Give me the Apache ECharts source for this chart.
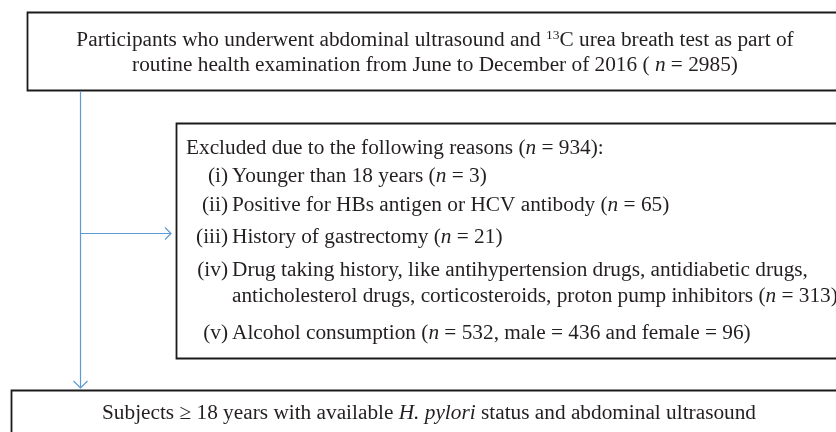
<!DOCTYPE html>
<html>
<head>
<meta charset="utf-8">
<script src="https://cdn.jsdelivr.net/npm/echarts@6/dist/echarts.min.js"></script>
<style>html,body{margin:0;padding:0;background:#fff}#c{width:836px;height:432px}</style>
</head>
<body>
<div id="c"></div>
<script>
// ---- data ----
const totalN = 2985;
const studyYear = 2016;
const excludedN = 934;
const reasonLabels = ['(i)', '(ii)', '(iii)', '(iv)', '(v)'];
const reasonN = [3, 65, 21, 313, 532];
const alcoholMale = 436;
const alcoholFemale = 96;

const FONT = '"Liberation Serif", "DejaVu Serif", serif';
const FS = 21.3;
const INK = '#231f20';
const BLUE = '#5b9bd5';

const rich = {
  r: { fontFamily: FONT, fontSize: FS, fill: INK, lineHeight: 24 },
  i: { fontFamily: FONT, fontSize: FS, fill: INK, fontStyle: 'italic', lineHeight: 24 },
  sup: { fontFamily: FONT, fontSize: 13.5, fill: INK, verticalAlign: 'top', lineHeight: 24 }
};

const topLines = [
  '{r|Participants who underwent abdominal ultrasound and }{sup|13}{r|C urea breath test as part of}',
  '{r|routine health examination from June to December of ' + studyYear + ' ( }{i|n}{r| = ' + totalN + ')}'
];
const excludedHead = '{r|Excluded due to the following reasons (}{i|n}{r| = ' + excludedN + '):}';
const reasonBodies = [
  ['{r|Younger than 18 years (}{i|n}{r| = ' + reasonN[0] + ')}'],
  ['{r|Positive for HBs antigen or HCV antibody (}{i|n}{r| = ' + reasonN[1] + ')}'],
  ['{r|History of gastrectomy (}{i|n}{r| = ' + reasonN[2] + ')}'],
  ['{r|Drug taking history, like antihypertension drugs, antidiabetic drugs,}',
   '{r|anticholesterol drugs, corticosteroids, proton pump inhibitors (}{i|n}{r| = ' + reasonN[3] + ')}'],
  ['{r|Alcohol consumption (}{i|n}{r| = ' + reasonN[4] + ', male = ' + alcoholMale + ' and female = ' + alcoholFemale + ')}']
];
const bottomLine = '{r|Subjects \u2265 18 years with available }{i|H. pylori}{r| status and abdominal ultrasound}';

// ---- layout ----
const BOX = { stroke: '#1a1a1a', lineWidth: 1.8, fill: '#fff' };
const g = [];
function box(x, y, w, h) {
  g.push({ type: 'rect', shape: { x: x, y: y, width: w, height: h }, style: Object.assign({}, BOX), z: 1 });
}
function txt(x, y, t, align) {
  g.push({ type: 'text', x: x, y: y, z: 5,
    style: { text: t, rich: rich, align: align || 'left', verticalAlign: 'middle', fontFamily: FONT, fontSize: FS, fill: INK } });
}
function line(pts) {
  g.push({ type: 'polyline', shape: { points: pts }, style: { stroke: BLUE, lineWidth: 1.2, fill: null }, z: 3 });
}

// boxes
box(27.5, 12.5, 820, 78);
box(176.5, 123.5, 680, 235);
box(11.5, 390.5, 840, 60);

// connectors
line([[80.5, 91], [80.5, 388]]);
line([[73.5, 381], [80.5, 388], [87.5, 381]]);
line([[81, 233.5], [171, 233.5]]);
line([[165, 227.5], [171, 233.5], [165, 239.5]]);

// top text
txt(435, 40, topLines[0], 'center');
txt(435, 65, topLines[1], 'center');

// excluded text
txt(186, 148, excludedHead);
const rowY = [[176], [205], [237], [270, 296], [333]];
reasonLabels.forEach(function (lab, k) {
  txt(228, rowY[k][0], '{r|' + lab + '}', 'right');
  reasonBodies[k].forEach(function (b, j) { txt(232, rowY[k][j], b); });
});

// bottom text
txt(429, 413, bottomLine, 'center');

const chart = echarts.init(document.getElementById('c'), null, { renderer: 'canvas' });
chart.setOption({ animation: false, backgroundColor: '#fff', graphic: g });
</script>
</body>
</html>
